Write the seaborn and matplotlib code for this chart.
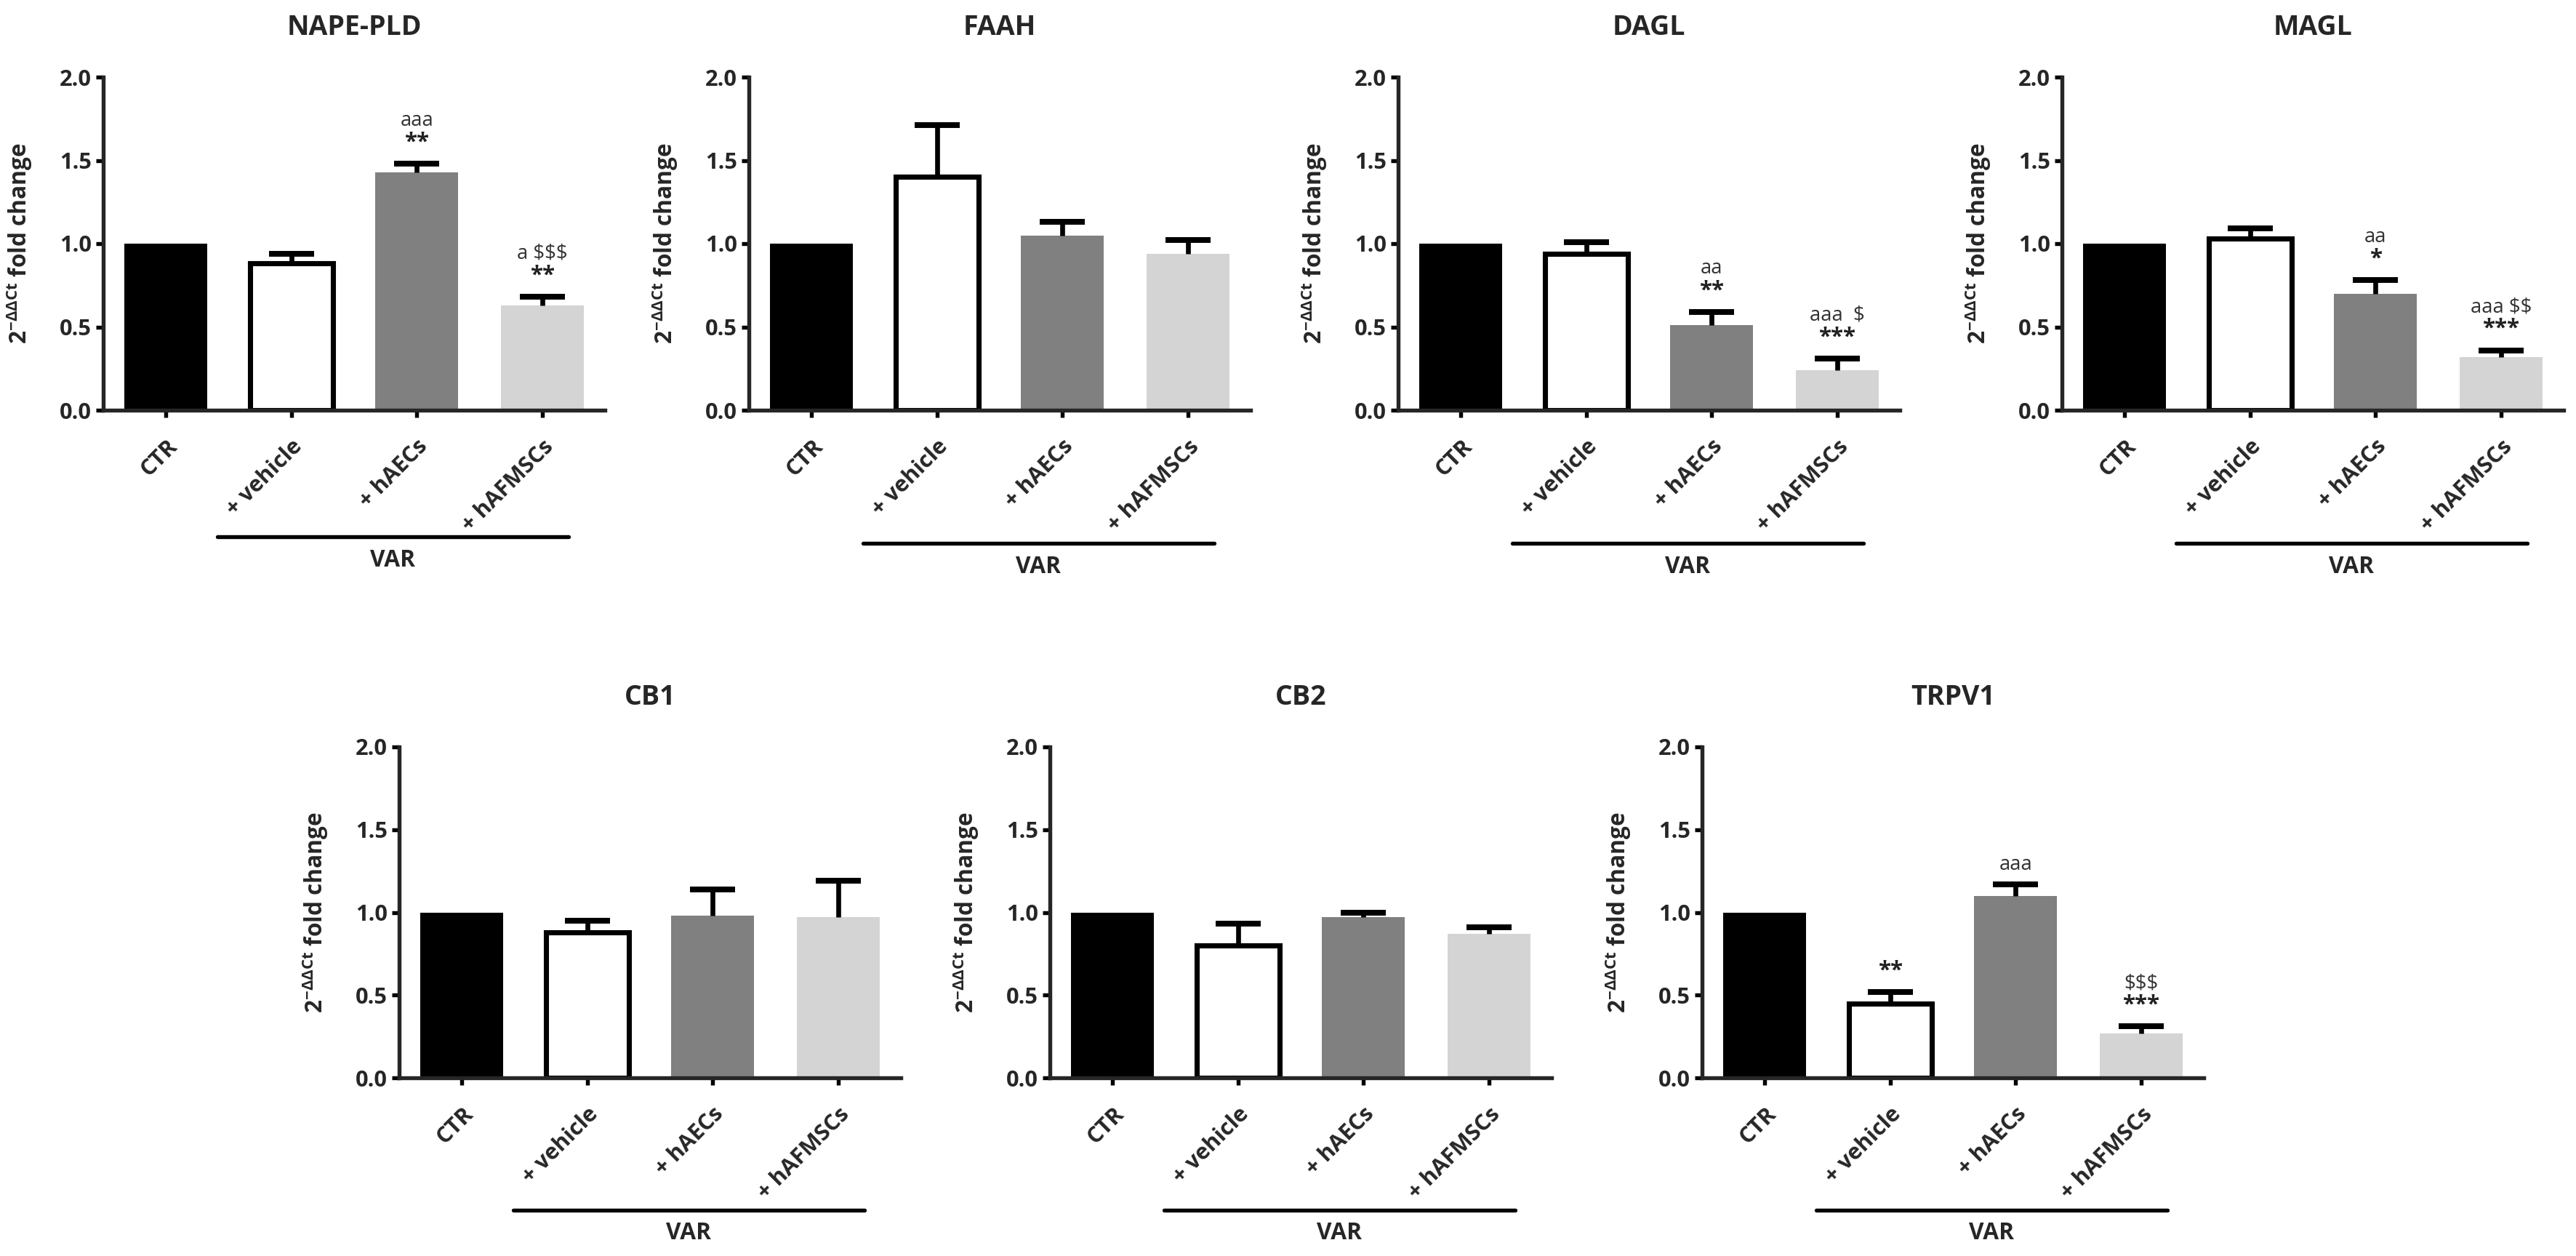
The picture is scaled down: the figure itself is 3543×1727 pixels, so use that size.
import numpy as np
import pandas as pd
import matplotlib
matplotlib.use("Agg")
import matplotlib.pyplot as plt
import matplotlib.transforms as mtransforms
from matplotlib.ticker import FormatStrFormatter
import seaborn as sns

# ---------------- data ----------------
groups = ["CTR", "+ vehicle", "+ hAECs", "+ hAFMSCs"]
bar_colors = ["#000000", "#ffffff", "#808080", "#d4d4d4"]

titles = ["NAPE-PLD", "FAAH", "DAGL", "MAGL", "CB1", "CB2", "TRPV1"]

nape_mean = [1.00, 0.88, 1.43, 0.63]
nape_err = [0.00, 0.06, 0.05, 0.05]
faah_mean = [1.00, 1.40, 1.05, 0.94]
faah_err = [0.00, 0.31, 0.08, 0.08]
dagl_mean = [1.00, 0.94, 0.51, 0.24]
dagl_err = [0.00, 0.07, 0.08, 0.07]
magl_mean = [1.00, 1.03, 0.70, 0.32]
magl_err = [0.00, 0.06, 0.08, 0.04]
cb1_mean = [1.00, 0.88, 0.98, 0.97]
cb1_err = [0.00, 0.07, 0.16, 0.22]
cb2_mean = [1.00, 0.80, 0.97, 0.87]
cb2_err = [0.00, 0.13, 0.03, 0.04]
trpv1_mean = [1.00, 0.45, 1.10, 0.27]
trpv1_err = [0.00, 0.07, 0.07, 0.04]

# significance labels: (group index, stars, letters)
nape_sig = [(2, "**", "aaa"), (3, "**", "a $$$")]
faah_sig = []
dagl_sig = [(2, "**", "aa"), (3, "***", "aaa  $")]
magl_sig = [(2, "*", "aa"), (3, "***", "aaa $$")]
cb1_sig = []
cb2_sig = []
trpv1_sig = [(1, "**", ""), (2, "", "aaa"), (3, "***", "$$$")]

y_ticks = [0.0, 0.5, 1.0, 1.5, 2.0]
ylabel = r"$\mathbf{2}^{\mathregular{-\Delta\Delta Ct}}$ fold change"
group_label = "VAR"

# ---------------- style ----------------
sns.set_style("ticks")
plt.rcParams["font.family"] = ["Open Sans", "DejaVu Sans"]
plt.rcParams["font.weight"] = "bold"
plt.rcParams["mathtext.fontset"] = "custom"
plt.rcParams["mathtext.rm"] = "Open Sans:bold"
plt.rcParams["mathtext.bf"] = "Open Sans:bold"
plt.rcParams["mathtext.it"] = "Open Sans:bold"
plt.rcParams["axes.linewidth"] = 1.3

W, H = 3543, 1727
fig = plt.figure(figsize=(W / 300, H / 300), dpi=300)

top_b, top_h = 1 - 564 / H, 458 / H
bot_b, bot_h = 1 - 1482 / H, 455 / H
aw = 690 / W
rects = [
    [142 / W, top_b, aw, top_h],
    [1030 / W, top_b, aw, top_h],
    [1923 / W, top_b, aw, top_h],
    [2836 / W, top_b, aw, top_h],
    [549 / W, bot_b, aw, bot_h],
    [1444 / W, bot_b, aw, bot_h],
    [2341 / W, bot_b, aw, bot_h],
]
means = [nape_mean, faah_mean, dagl_mean, magl_mean, cb1_mean, cb2_mean, trpv1_mean]
errs = [nape_err, faah_err, dagl_err, magl_err, cb1_err, cb2_err, trpv1_err]
sigs = [nape_sig, faah_sig, dagl_sig, magl_sig, cb1_sig, cb2_sig, trpv1_sig]
var_line_y = [-0.38, -0.40, -0.40, -0.40, -0.40, -0.40, -0.40]


def draw_panel(ax, title, mean, err, sig, vly):
    df = pd.DataFrame({"group": groups, "value": mean})
    sns.barplot(data=df, x="group", y="value", hue="group", order=groups,
                hue_order=groups, palette=bar_colors, width=0.66, saturation=1,
                errorbar=None, legend=False, ax=ax, zorder=2)
    for i, p in enumerate(ax.patches):
        if bar_colors[i] == "#ffffff":
            p.set_edgecolor("black")
            p.set_linewidth(1.7)
        else:
            p.set_edgecolor(bar_colors[i])
            p.set_linewidth(0)
    xs = np.asarray(ax.get_xticks(), dtype=float)
    m = np.asarray(mean)
    e = np.asarray(err)
    keep = e > 0
    _, caps, _ = ax.errorbar(xs[keep], m[keep], yerr=[np.zeros(keep.sum()), e[keep]],
                             fmt="none", ecolor="black", elinewidth=1.6,
                             capsize=7.5, capthick=1.9, zorder=3)
    if len(caps) > 0:
        caps[0].set_visible(False)
    for gi, stars, letters in sig:
        top = m[gi] + e[gi]
        sy = top + 0.13
        if stars:
            ax.text(xs[gi], sy, stars, ha="center", va="center", fontsize=7.5,
                    fontweight="bold", color="#222222", zorder=4, parse_math=False)
        if letters:
            ly = sy + 0.13 if stars else top + 0.12
            ax.text(xs[gi], ly, letters, ha="center", va="center", fontsize=6.6,
                    fontweight="normal", color="#333333", zorder=4, parse_math=False)
    ax.set_xlim(-0.5, 3.5)
    ax.set_ylim(0, 2.0)
    ax.set_yticks(y_ticks)
    ax.yaxis.set_major_formatter(FormatStrFormatter("%.1f"))
    ax.set_xlabel("")
    ax.set_ylabel(ylabel, fontsize=7.6, fontweight="bold")
    ax.yaxis.set_label_coords(-0.138, 0.5)
    ax.set_xticks(xs)
    ax.set_xticklabels(groups, rotation=45, ha="right", va="top",
                       rotation_mode="anchor", fontsize=7.4, fontweight="bold")
    ax.tick_params(axis="both", length=2.4, width=1.3, color="black")
    ax.tick_params(axis="y", labelsize=7.4, pad=1.5)
    ax.tick_params(axis="x", pad=6)
    sns.despine(ax=ax)
    ax.text(0.5, 1 + 68 / 458, title, transform=ax.transAxes, ha="center",
            va="center", fontsize=9, fontweight="bold")
    tr = mtransforms.blended_transform_factory(ax.transData, ax.transAxes)
    x0, x1 = xs[1] - 0.59, xs[3] + 0.21
    ax.plot([x0, x1], [vly, vly], transform=tr, clip_on=False, color="black", lw=1.3)
    ax.text((x0 + x1) / 2, vly - 0.07, group_label, transform=tr, ha="center",
            va="center", fontsize=7.6, fontweight="bold")


for k in range(7):
    ax = fig.add_axes(rects[k])
    draw_panel(ax, titles[k], means[k], errs[k], sigs[k], var_line_y[k])

fig.savefig("out.png", dpi=300, facecolor="white")
